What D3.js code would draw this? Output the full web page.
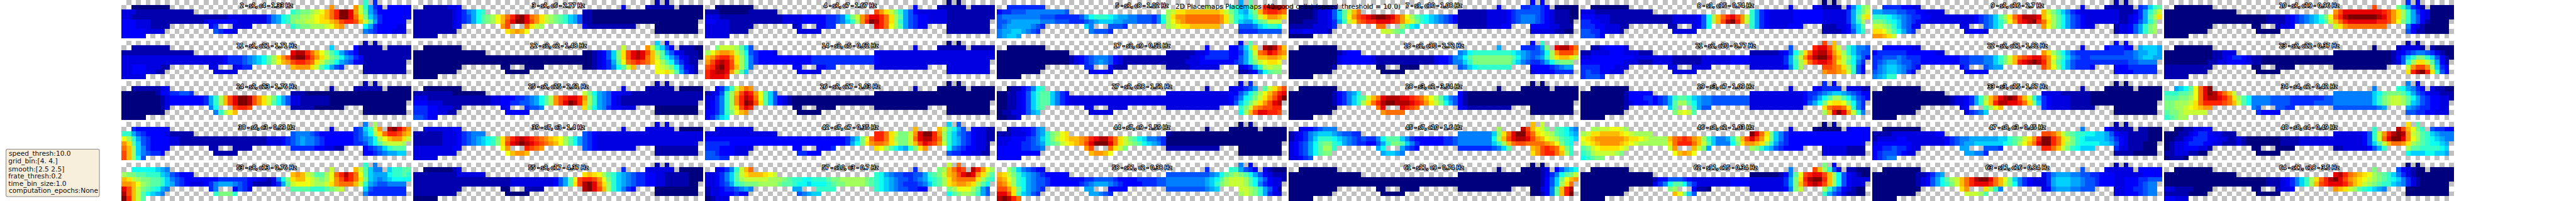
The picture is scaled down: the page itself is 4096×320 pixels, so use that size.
<!DOCTYPE html>
<html><head><meta charset="utf-8">
<script src="https://cdn.jsdelivr.net/npm/d3@7/dist/d3.min.js"></script>
<style>html,body{margin:0;padding:0;background:#fff;overflow:hidden}svg{display:block}text{font-family:"DejaVu Sans",sans-serif}</style>
</head><body><div id="chart"></div>
<script>
const scale = 0.64;
const suptitle = "2D Placemaps Placemaps (40 good cells) (speed_threshold = 10.0)";
const paramLines = ["speed_thresh:10.0","grid_bin:[4. 4.]","smooth:[2.5 2.5]","frate_thresh:0.2","time_bin_size:1.0","computation_epochs:None"];
const paramBaselines = [388,407,426,443,462,480];
const paramLefts = [21.7,20.7,20.7,20.7,20.7,21.7];
const titles = [
"2 - s1, c4 - 1.33 Hz","3 - s1, c6 - 2.77 Hz","4 - s1, c7 - 1.67 Hz","5 - s1, c8 - 1.02 Hz","7 - s1, c10 - 1.08 Hz","8 - s1, c15 - 0.74 Hz","9 - s1, c16 - 2.7 Hz","10 - s1, c19 - 0.96 Hz",
"11 - s1, c21 - 1.71 Hz","12 - s2, c2 - 1.48 Hz","14 - s2, c5 - 0.62 Hz","17 - s2, c9 - 0.52 Hz","18 - s2, c10 - 2.72 Hz","21 - s2, c20 - 0.77 Hz","22 - s2, c21 - 1.82 Hz","23 - s2, c22 - 0.37 Hz",
"24 - s2, c23 - 1.76 Hz","25 - s2, c25 - 2.61 Hz","26 - s2, c27 - 1.03 Hz","27 - s2, c28 - 1.51 Hz","28 - s3, c2 - 3.54 Hz","29 - s3, c7 - 1.09 Hz","33 - s3, c15 - 1.87 Hz","34 - s4, c2 - 0.42 Hz",
"38 - s6, c3 - 0.99 Hz","39 - s7, c3 - 1.4 Hz","42 - s7, c7 - 0.35 Hz","44 - s7, c9 - 1.59 Hz","45 - s7, c10 - 1.6 Hz","46 - s8, c2 - 1.03 Hz","47 - s8, c3 - 0.45 Hz","48 - s8, c4 - 0.49 Hz",
"53 - s8, c13 - 0.76 Hz","55 - s8, c17 - 4.37 Hz","57 - s10, c3 - 0.7 Hz","58 - s11, c2 - 0.38 Hz","61 - s11, c9 - 0.74 Hz","62 - s11, c15 - 0.34 Hz","63 - s11, c16 - 0.84 Hz","64 - s11, c18 - 3.5 Hz"];
// occupied bins of the track, one list of [firstCol,lastCol] per grid row
const trackRows = [
 [[50,50],[52,52]],
 [[2,9],[43,43],[48,53],[55,59]],
 [[0,14],[35,59]],
 [[0,59]],
 [[0,58]],
 [[0,9],[18,19],[23,26],[35,45],[50,58]],
 [[0,8],[19,23],[50,58]],
 [[0,4]]];
// rate levels read per bin: letter A (0) .. Y (24), an optional count repeats the letter
const u2=["K E","A8 S S O K H E D D5","C3 B12 K L M M N O P R T V Y Y W S O L H F D7","C2 B20 C8 E G H J K M M N N O P Q R T V Y Y W T Q M I G E D6","D3 C3 B11 C D6 C6 E G H J K M N N O O P Q Q R S U V V U R O L H E D5","D3 C3 B4 D E C4 K L M M N N N O P R S J H E D4 C2","D5 C4 F E D D C G F E D3 C3","D5"];
const u3=["B B","B5 C2 D C B6 A5","B8 C D E G H J K B2 A23","B8 C D E F H J L M N P R T V X Y W T S Q O N M L K I H F B2 A23","B8 C D E F H J L M N P R U W Y Y W U S Q O N M L K I H F B2 A22","B8 C D S U T Q O N C B10 A9","B9 Q R S R P A9","B5"];
const u4=["A A","A8 D B6 B5","B3 A6 B6 U S Q O M K H F D C6 B10","C3 B12 B C C C C D D D D D E E F G J M O S U W W V T Q N L H F E D D C C C C B10","D2 C3 B10 B C C C C D D D D D E E F G I K N S V Y X V T Q N K H F E D D C C C C B9","C5 B5 B C D D E E W V T P N L H F E D D B9","C5 B4 C5 B9","C5"];
const u5=["H L","E8 N J K H I L O V X Y X V","D E E F F F G G G G G G G G F N O Q Q R7 Q O M K I H K M R U V V U T","F G G G G G G G G F F F E E E E E F H J K K K J I H H G G F F F E G K N Q S S T7 S Q N K J I J L O Q S S R Q","F F G H H H H H H G G G F F F E E E F G H I I I H H G G G F F F E G J N P R S T7 S Q N K I H H J L M O O O","F G H H H H H G F E I G F F F E N O P Q Q R R R R R R F F F G I J K K J","G H H I I H G F E G F F F E E E E E F F F F F","G H I I H"];
const u7=["D D","A7 B C E E F F E D A5","A5 B C C D F I L O R T B6 C4 D E F F F F F E D C B B B A A","A5 B C C D F I L P S U V W X Y Y X W U S P N L K J I H G F E D B6 C4 D E F G G G F E D C B B B A A","A3 B B B C C D E H K O Q T U V V W W W V U S Q O M K J I H G F E D B6 C4 D E F G G G F E D C B B B A","B5 C C C D E T T N L J I B6 C C C D D D D D D C C B B B","C C C D D C C C B O O N M L C5 B B A A","A5"];
const u8=["A A","A8 C C C B B B B D G J M N","C C C B12 K H E D C5 D6 C5 E H K M O","D D D C C C B9 B4 C5 D F J N R T V W U S O K H E D C5 D6 C5 E H L O Q","E E D D C C B9 B4 C5 D F J N R U X Y V S O K H E D C5 D6 C5 E H K N","E E E D D C C C B B B B C D F J K H E D C C C C D D D B B B C C D G I L","F F E E D C C C B C5 B B B B C D F I K","F F F E D"];
const u9=["B B","E E E E D D C C C B6 E F I K L","H H G G G F F E E D D C C C C R O M K I G E D C8 B B B C E H K M O","K K K J I H G F E E D D C C C C6 D E F G I L N Q T V X X X W R P N L J H F E D C7 B B C D E H L N Q","M M L K J I G F E D D C C C C C6 D E F G I K M P S V W X Y V T Q N L J H F E D C7 B B C D F H K M","O O N M K I G F D D C C F G I K S P N L J H F E D C C B C C D F H K M N","Q Q P N L J H F E C D D D C B C C D F H K M N","S S R Q O"];
const u10=["E D","A8 U M K H E D B A5","A15 S U W8 V U S Q N K H E D C A5","A15 A6 B4 C D E F G H I K M P T V X Y6 X W U S Q N K H F D C A5","A15 A6 B4 C D E F G H I J L O R T V W6 V V U S P M K H F D B A4","A10 A A B C C D O Q S T8 G D C B A5","A9 A5 F D B B A5","A5"];
const u11=["B B","B8 I D B5 B5","B15 W X X V T R P N L J H F E D B11","C21 D E E E F G H I J L N Q S U X Y Y W U S Q O M L J H G E D B10","C21 D E E E F G H I J L N P R S U V V U T Q O M L J H G F D C B9","C2 D3 C3 B2 C C C D E E R S S S Q O L J H F E B9","C2 D3 C2 B2 C5 B9","C5"];
const u12=["I D","A8 O S O K I F D B B B A A","A15 A A B C D F I M Q U W X W U R N L H F D C B B B A","A35 A A B C D F I M Q U W X W T R O L J H F D C B B A","A35 A A B C D E H L P T U V U T R P N L J G E C B B","A10 A A A4 A A B C D E G J L O R P O N M J G D C B","A9 A5 P P Q O L H E C B","A5"];
const u14=["A A","M O O O N L I F C B6 B5","N P R S S R O M J F E D D D C C25","R S U V V T Q N K G E D D D D D7 E7 E6 D C24","S U W X W U Q N K G E D D D D D7 E7 E6 D C23","U V X Y W U R N K G D D D D E E C11 C9","V W X X W S O L I D D C C C C9","V W W W V"];
const u17=["D L","A8 D D D F I M Q X Y X U R","A15 B6 C C D E E E E D D E H K O T U W V T S","A15 B C D E F G G G F D C B B8 B5 C C D E5 D D F H K N R R S S R Q","A15 B C D E F G H G F D C B B8 B4 C3 D7 E F H K M O P Q Q P","A10 E E D B B B B5 C6 C D E H K N O N N","A9 D D D D C B B C D G J L M M","A5"];
const u18=["D K","A8 H E E E F H M W X X V T","A10 B C D D D G H J K8 J I H G F F G J N S U U U S","A10 C D D D D D D C B12 C D D E G H J L M8 L J H G F G H K N Q R R Q O","A10 C D D D D D D C B12 C D D E G G I K M8 K I G F E E F H J L M M M","A9 B A A A4 F G I J K7 D D D D E F G H H","A9 A5 C D D D D E E E E","A5"];
const u21=["U R","B B C D D D D C F V W W U R O K I G G F","B B C C C C D D D C C C B B B B6 C D F J M Q T W X X V S Q N K I G F F","C C D9 C4 C4 B6 C6 D4 C7 E H L O S V X Y Y W T R O M J H F D","D9 C C C B B B C4 B6 C6 D4 C7 E H K N Q T V W W V T Q O L J G E","E E E E D D D C C C C C C C C C C7 D G K N U U T S Q N K F D","E F E E D D C C C C5 S T T S R O K F D","E F F F E"];
const u22=["D D","D6 C C C D E E E D D H I I I H","D E E E E E E D D D D D D C C S Q N L J H F E10 F F G H H I I H","E E F F F G F E E E D D D D D D D D E E F F F G G I K M O R T U V W W U S P M K I G F E E F9 G H I I H H","E F G H H G F F E E D D D D D D D D E E F F F G G I K M O R V W X Y X V S O L J H F E E10 F F G G G G","E G H I I H G F E D D E F G H H U S P M J H F E E E D D D D E E E E E E","F G H I I H G E D D5 D D D D E E E E E","G H I K K"];
const u23=["B B","A8 A B C C C C B B A4","A10 B B C C C A12 B C D E F G G F E C B A A","A10 B B C D E E D C B B A15 A12 B D F I K M M K I F D B A","A9 B B C C D D D D C B B A15 A12 B C F K N Q Q O L H D B","B10 A A A4 A11 O S U U S N I E D","B9 A5 Q V X Y V Q K F D","B5"];
const u24=["B B","B6 C D B B6 A5","A7 B D D E E F F E B3 A22","A8 B C D7 E H K N R U W Y Y X U S Q O M J H F C2 B6 A17","A8 B C D7 E H K N R U W Y Y X U S Q O L J H F C2 B6 A16","A8 B C G J U V V U B5 A6 A9","A9 G K N P R A9","A5"];
const u25=["B B","A8 C B6 A5","B8 A7 O M J H G F D D C C B15","C3 B12 B C C D D D E E F G H J L N S U V W W V S N K H G F D C B17","D3 C3 B9 B C C D D E E F F G H J L N S U W Y X V R N K H G F D C B16","E3 D2 C3 B2 C D E F F G Q M J H G E D D C C C A9","E3 D2 C2 B2 D5 A9","F F E D D"];
const u26=["A A","D E H K O R T S B A6 A5","B C D F K N R U W V S P L I F A25","C C E G K N S V X W T P L I F D C B A17 A25","C D E G K N S V Y X U Q L I F D C B A17 A24","C D E G K N Q U W V A A A4 A11 A9","D D E G K M P R S A5 A9","D E G I J"];
const u27=["C E","A B B D E G J K B C D D E F H L O Q S U","A A B B C D F I K L L I G E D C13 D D F H J L N P R T V W","A A B B C D F I K L L I G E D C20 C13 D E G J K M O Q S U W Y","A A B B C D F I K L L I G E D C20 C13 D F I K M O Q S U W X","A A B B C D F I K L C C C4 C11 K M O S T U U V V","A B B C C D F H I C5 J N R U W W V V U","A A B B C"];
const u28=["A A","A8 A A6 A5","A9 B D E G H J D B A23","A9 B D E G I K L O R T W X X X W W V U T R P N L I G F D B A23","A9 B D E G I K N Q T V X Y Y X X X W V U S Q O M J H F D B A22","A10 T W W V U T D C B9 A9","A9 S T T T T A9","A5"];
const u29=["E D","A8 C D D E E E E C C C B B","A9 B D D D D D C11 D E E F G H I I H G F E D D","A9 B D D D E E D E F H K L L K I H G G F8 C11 D E F H J L N N L J H F E D","A9 B C D D D E D E F H L N N L J H G G F8 C11 D F H J M P Q Q P M J G E","A9 B I L K H F F C11 Q T U U T Q K G E","A9 M O P O L N R W Y W S O K G","A5"];
const u33=["A A","A8 B A6 A5","A15 C4 B6 A15","A15 A B C C D E H K N R T W X Y X U R O K H E D C4 B4 A15","A15 A B C C D E H K O R V X X W W V T Q M I E D C4 B4 A14","A10 C D L N P R E D C C C C B5 A9","A9 C E F G I A9","A5"];
const u34=["G D","H I J L P T W Y G K J H G E D C B B A A","K K K L L M P T W Y X V T R O G8 I J L M M M L J H F E D C C B B B","L L L M M N P T W X X W V T Q N L J G G3 F4 E7 F2 G8 I K M N O O N L J H F E D D C C B","M M N N N O Q T V V V V U T R O L J G4 F4 E5 F4 G8 I K M N O O N L I H F E D D C C","M M N N O P Q R S S G F F F E E F9 G H H G F E E D D C C","L M M N O O O O O E D D D D F F E E D D C C C","K L M N N"];
const u38=["G N","E D7 C E F I K O S X Y W U S","K K H F E D4 C B5 F G G G F E D7 E F H J N Q T V V U S R","P N K H F E D4 C2 B18 C3 D E F G H G G F E D6 E F G H J N P R S S Q O","S Q L I F E D4 C2 B18 C3 D E F G H G G F E D6 E E F H J L N O O O N","T R N I G E D4 B B B4 E E E E E D D C C B B D E F G I K L L L","U R N I G F E E D B5 D D E F G H H I I","U R N J F"];
const u39=["C C","C6 D D C C6 A5","B6 C3 D E F G G G F E D C22","B6 C3 D E F G H I J K M Q T V W X W V U T S R Q P N L J H F E D C22","B6 C3 D E F G H I J K M Q U W X Y X W V U T S R P N L J H F E D C21","C8 D D P S V U T S F E D C8 B9","C9 P R S S R B9","C5"];
const u42=["I F","C8 R R O L J H F D C C B B","C15 V V T Q O M M O S W Y Y V S N K I G F E D C C B B","D29 E G I M P T V V T Q N M M O T W X X V T N K I H F E D C C B B","E5 D24 E H J M Q S T T S Q O M M O R U W V U S O K I H F E D C C B","E E E D D D C C C C D D D D D E Q P N L J I H K M Q S J G F E D D C C B","F F E D3 C3 E E D D D F E E D D C C B B","F F F E E"];
const u44=["A B","B C C D D E G H A A6 A5","B B B C C C D E G H K M N P Q B A24","C C C D D D E F G I K M O P Q R R S T V W X X V T Q O M L J I G G F E A25","C C D D D E E F G H K L M O P Q R S U W Y Y Y W T Q O N M L J I H G E A24","D5 E E F F G S U T Q O M B11 A9","D9 R S S R P A9","D5"];
const u45=["R O","C D D E F G G G N X U R P O M L K J H G","B C D E G H I I I H G F F E E G7 I M Q T W Y Y V T Q P O N L K J I H","B C D E G I K K K J I H G F E F E E G J L L L I G E D6 E E F G7 J N R U W X X W U S R P O N L K J I","C D E F H J L M M K J H G F E E D D F H K M M L I G E D5 E E F G7 I K N R T U U T T T T S R P M K J","C D E F H J L N N K H J H F E D E7 F G I L R S U V U T Q M K","C D E F H J L M M H I I H G Q S U V V T R N K","C C D E F"];
const u46=["A B","N N O O P P O N C A6 C D D D D","N O Q Q R R R R Q P O N N N N Y W T Q M I G E D D16","P Q R S S S S S S R Q Q P O N N N N R T U V U S R N K I G G H K N R U W U S P M I G E D D16","O P Q R S S S S R Q P O N N N N N N Q T V V V T R O L I G G G J M Q S S R Q N K H F E D D15","L M O P Q Q Q Q P O O S R O M H N M K I H F E D4 C5 B4","K L N O O O O N M P R S R P C5 B4","J K L M M"];
const u47=["B B","A8 G D C B B B B B B A A A","B4 C9 D D U U T R O M L K K J J I I H F D C C B4 A3","B C4 D D C8 D E F G G H6 I I K L M O Q S V Y Y V T Q O M K J I4 H G E D C B4 A3","C D7 C7 D E F G H H I6 J K L N P R T W Y Y V T Q N M K J4 I I H F D C B B B A3","D D E E F E E D C C H H F F F E V V T R O M K J I I I E C C B B B A A A","D E F F F E D C C H H G G E B4 A5","D E F G G"];
const u48=["Q L","A A B B C C D D K X U R P M K F E E D D","A A A B B C D E E D C C B B B C6 D F K O S V X Y X S O N L K I H G G G","A A B B C D E E E D D C C B B C B A7 B4 C7 C6 D F K O T W Y Y W S P N L K J I H G G","A B C C D E E E D D C C B B B C B A7 B4 C7 C6 D F I L O R T T S Q N M L K J J I H","A B C C D D D C C B A A A4 B B C5 D F H K N L L K K K K J I","B B C C C B B A A A5 J I I I J J I I H","A B B B A"];
const u53=["K G","J5 I H G O R O L I G G I K K L L","N M M L L K K K I H F E D D D R S R O N L L N P T V X V T P L I H H H J K K L K","R Q O N M M L L K I G F E D D D5 E6 D2 C2 B C G J M Q R R P O N M N P S U W V T Q M I H G H I J J J J","S S R P N M L L K I H F E D C C C D E G H H H G F E D B B B B C E H L O P P P O N N O Q S T T T R O K H G F F G G G G","W U R O M L K J H G E G D F E C L L L L K K K L M N O I F E7","X U R O L J I H G K M M M K G E8","Y V R O L"];
const u55=["B B","A6 B C E C6 A5","B9 C6 Q R Q P N L K I H G F E E D D C C B B B B B A A A","B15 B5 C8 C D F H L P U V V U S P M K I H G F E E D D C C B5 A3","B15 B5 C8 C D F H L Q U X Y W T Q N K I H G F E E D D C C B5 A2","B10 A A B4 X Y W U R N K I G E D A9","B9 A5 A9","A5"];
const u57=["O T","C D E G K O R T E M N R T V U X V S P N","C C D E G I L O Q R R R Q P O K J H G F F E E F F H K L M O R S U W X W S Q N L","C C D E G I L N O O O O O N N N M L K K J J K K K L M M N N N N N M L K J I H G F F E F G H J K L N Q S T T T T Q N L K","C C D E F H K L M M M N N N N M L L K J J I J J J K L M M N N N N M L K J I H G F E E E F G I K L N Q R S S R Q N L J","B C C D E E F G H G H H K K K K K J I H G F F E E D D M N P P P N L H F","B C C D D D E D D F G H I I J L M N N M K H F","A B C C C"];
const u58=["G D","N L I G F E D D E K K H F E D C B A A A","R Q O M K I H G F E D D D D D F9 G H J L M N M L J H F D C B B B","S R P N K J H G F F E D D D D D D D E E F F F F E D D D D E E E E F F G8 H I J L N O O O N L J H F D C C B","T S Q N K J H G F F E D D D D D D E F G H H H G F E D D D D E E E F F G8 H I K M N O O O N L J G E D C C","U U S Q M J H G F E H H D4 F8 G H I O O N M K H F D B","W W U Q L I H F E H H G F E N O N M K H E C C","X Y X V T"];
const u61=["A A","A8 A A A A A B C D F H I J","A15 A17 B C E G J L M O","A52 B D F I M P R S","A52 B D F I N Q T","A10 A A A4 A11 A A C D G L R V X","A9 A5 A A B D G L R V Y","A5"];
const u62=["M D","A8 G U R N K F C B B A A A","A15 A6 B D G L P U V W W U R N J F D C B A A","A15 B D D F F F E D C C C C5 D4 C7 E H M Q V X Y Y V R N J F D C C C C","A15 C E G J L L J G E C C6 D4 C7 E H M R U W X W U R N J F D C C C","A10 M N D B B A C7 D G M O N K H F D C B A A","A9 R P M I F K H F E C B B A A","A5"];
const u63=["B B","A8 F C6 D5","A9 B B C E G H C E G H H H G G F F E E D D D C6 D4","A9 B C D F H J L N O R T V X Y Y W T R P M I G E D C C C E H I I I H H G F F E D D D C C D D D E E F F F","A9 B C D F H J K M O R T V W W W V T R O M J G E D C C C E H I I I H H G F F E D D D C C D D D E F G G","A10 Q S Q N K G C D G H H H G G F F F C C D D E E F G G","A9 O O O N L C C D D D E F G G","A5"];
const u64=["A A","A8 M F D C B A A A5","A15 W X V T S R Q P N M L K I G E C B A8","A15 A6 B3 C D E G I K N Q T V X Y W U S R Q P O N M L K J I G E C B A7","A15 A6 B3 C D E G I K N R U V W W W V T R Q O N M L K K I H G E C B A6","C C B B B B A A A A A A B C C D S R Q O N L K J I H G A9","B5 A4 A5 A9","D D C C C"];
const unitMaps = [u2,u3,u4,u5,u7,u8,u9,u10,u11,u12,u14,u17,u18,u21,u22,u23,u24,u25,u26,u27,u28,u29,u33,u34,u38,u39,u42,u44,u45,u46,u47,u48,u53,u55,u57,u58,u61,u62,u63,u64];

const nCols = 60, nRows = 8;
const jet = d3.scaleLinear()
  .domain([0,0.11,0.125,0.34,0.375,0.64,0.66,0.89,0.91,1])
  .range(["#00007f","#0000ff","#0000ff","#00d8ff","#0cfff0","#faff05","#ffe800","#ff1400","#ef0000","#7f0000"]);
const level = ch => (ch.charCodeAt(0)-65)/24;
const decodeRow = s => { const out=[]; for (const m of s.matchAll(/([A-Y])(\d*)/g)) { const n=m[2]?+m[2]:1; for(let i=0;i<n;i++) out.push(level(m[1])); } return out; };
const occupied = trackRows.map(segs => segs.flatMap(([a,b]) => d3.range(a,b+1)));

const panelX = d3.scaleLinear().domain([0,1]).range([302,1027]);
const panelY = d3.scaleLinear().domain([0,1]).range([0,101]);
const colX = d3.scaleBand().domain(d3.range(nCols)).range([0,720]);
const rowY = d3.scaleBand().domain(d3.range(nRows)).range([0,96]);

const svg = d3.select("#chart").append("svg").attr("width",4096).attr("height",320);
const root = svg.append("g").attr("transform",`scale(${scale})`);

const checker = d3.cross(d3.range(nRows),d3.range(nCols)).filter(([r,c])=>(r+c)%2===1);
const panels = root.selectAll("g.panel").data(unitMaps).join("g").attr("class","panel")
  .attr("transform",(d,i)=>`translate(${panelX(i%8)},${panelY(Math.floor(i/8))})`);
panels.append("rect").attr("width",720).attr("height",96).attr("fill","#fff");
panels.append("g").selectAll("rect").data(checker).join("rect")
  .attr("x",d=>colX(d[1])).attr("y",d=>rowY(d[0])).attr("width",colX.bandwidth()).attr("height",rowY.bandwidth())
  .attr("fill","#c0c0c0").attr("shape-rendering","crispEdges");
panels.append("g").each(function(rows,pi){
  const cells=[];
  rows.forEach((s,r)=>{ const vals=decodeRow(s);
    occupied[r].forEach((c,k)=>{ if(k<vals.length) cells.push({r,c,v:vals[k]}); }); });
  d3.select(this).selectAll("rect").data(cells).join("rect")
    .attr("x",d=>colX(d.c)).attr("y",d=>rowY(d.r)).attr("width",colX.bandwidth()).attr("height",rowY.bandwidth())
    .attr("fill",d=>jet(d.v)).attr("shape-rendering","crispEdges");
});
panels.append("text").attr("x",360).attr("y",18.5).attr("text-anchor","middle")
  .attr("font-size",13.89).attr("fill","#fff").attr("stroke","#000").attr("stroke-width",3.4)
  .attr("stroke-linejoin","round").attr("paint-order","stroke").text((d,i)=>titles[i]);

root.append("text").attr("x",3200).attr("y",22).attr("text-anchor","middle").attr("font-size",16.67).attr("fill","#000").text(suptitle);

root.append("rect").attr("x",15).attr("y",371).attr("width",232).attr("height",118).attr("rx",4).attr("ry",4)
  .attr("fill","#f8eedc").attr("stroke","#8c8a84").attr("stroke-width",1.6);
root.selectAll("text.param").data(paramLines).join("text").attr("class","param")
  .attr("x",(d,i)=>paramLefts[i]).attr("y",(d,i)=>paramBaselines[i]).attr("font-size",16.67).attr("fill","#111").text(d=>d);
</script></body></html>
